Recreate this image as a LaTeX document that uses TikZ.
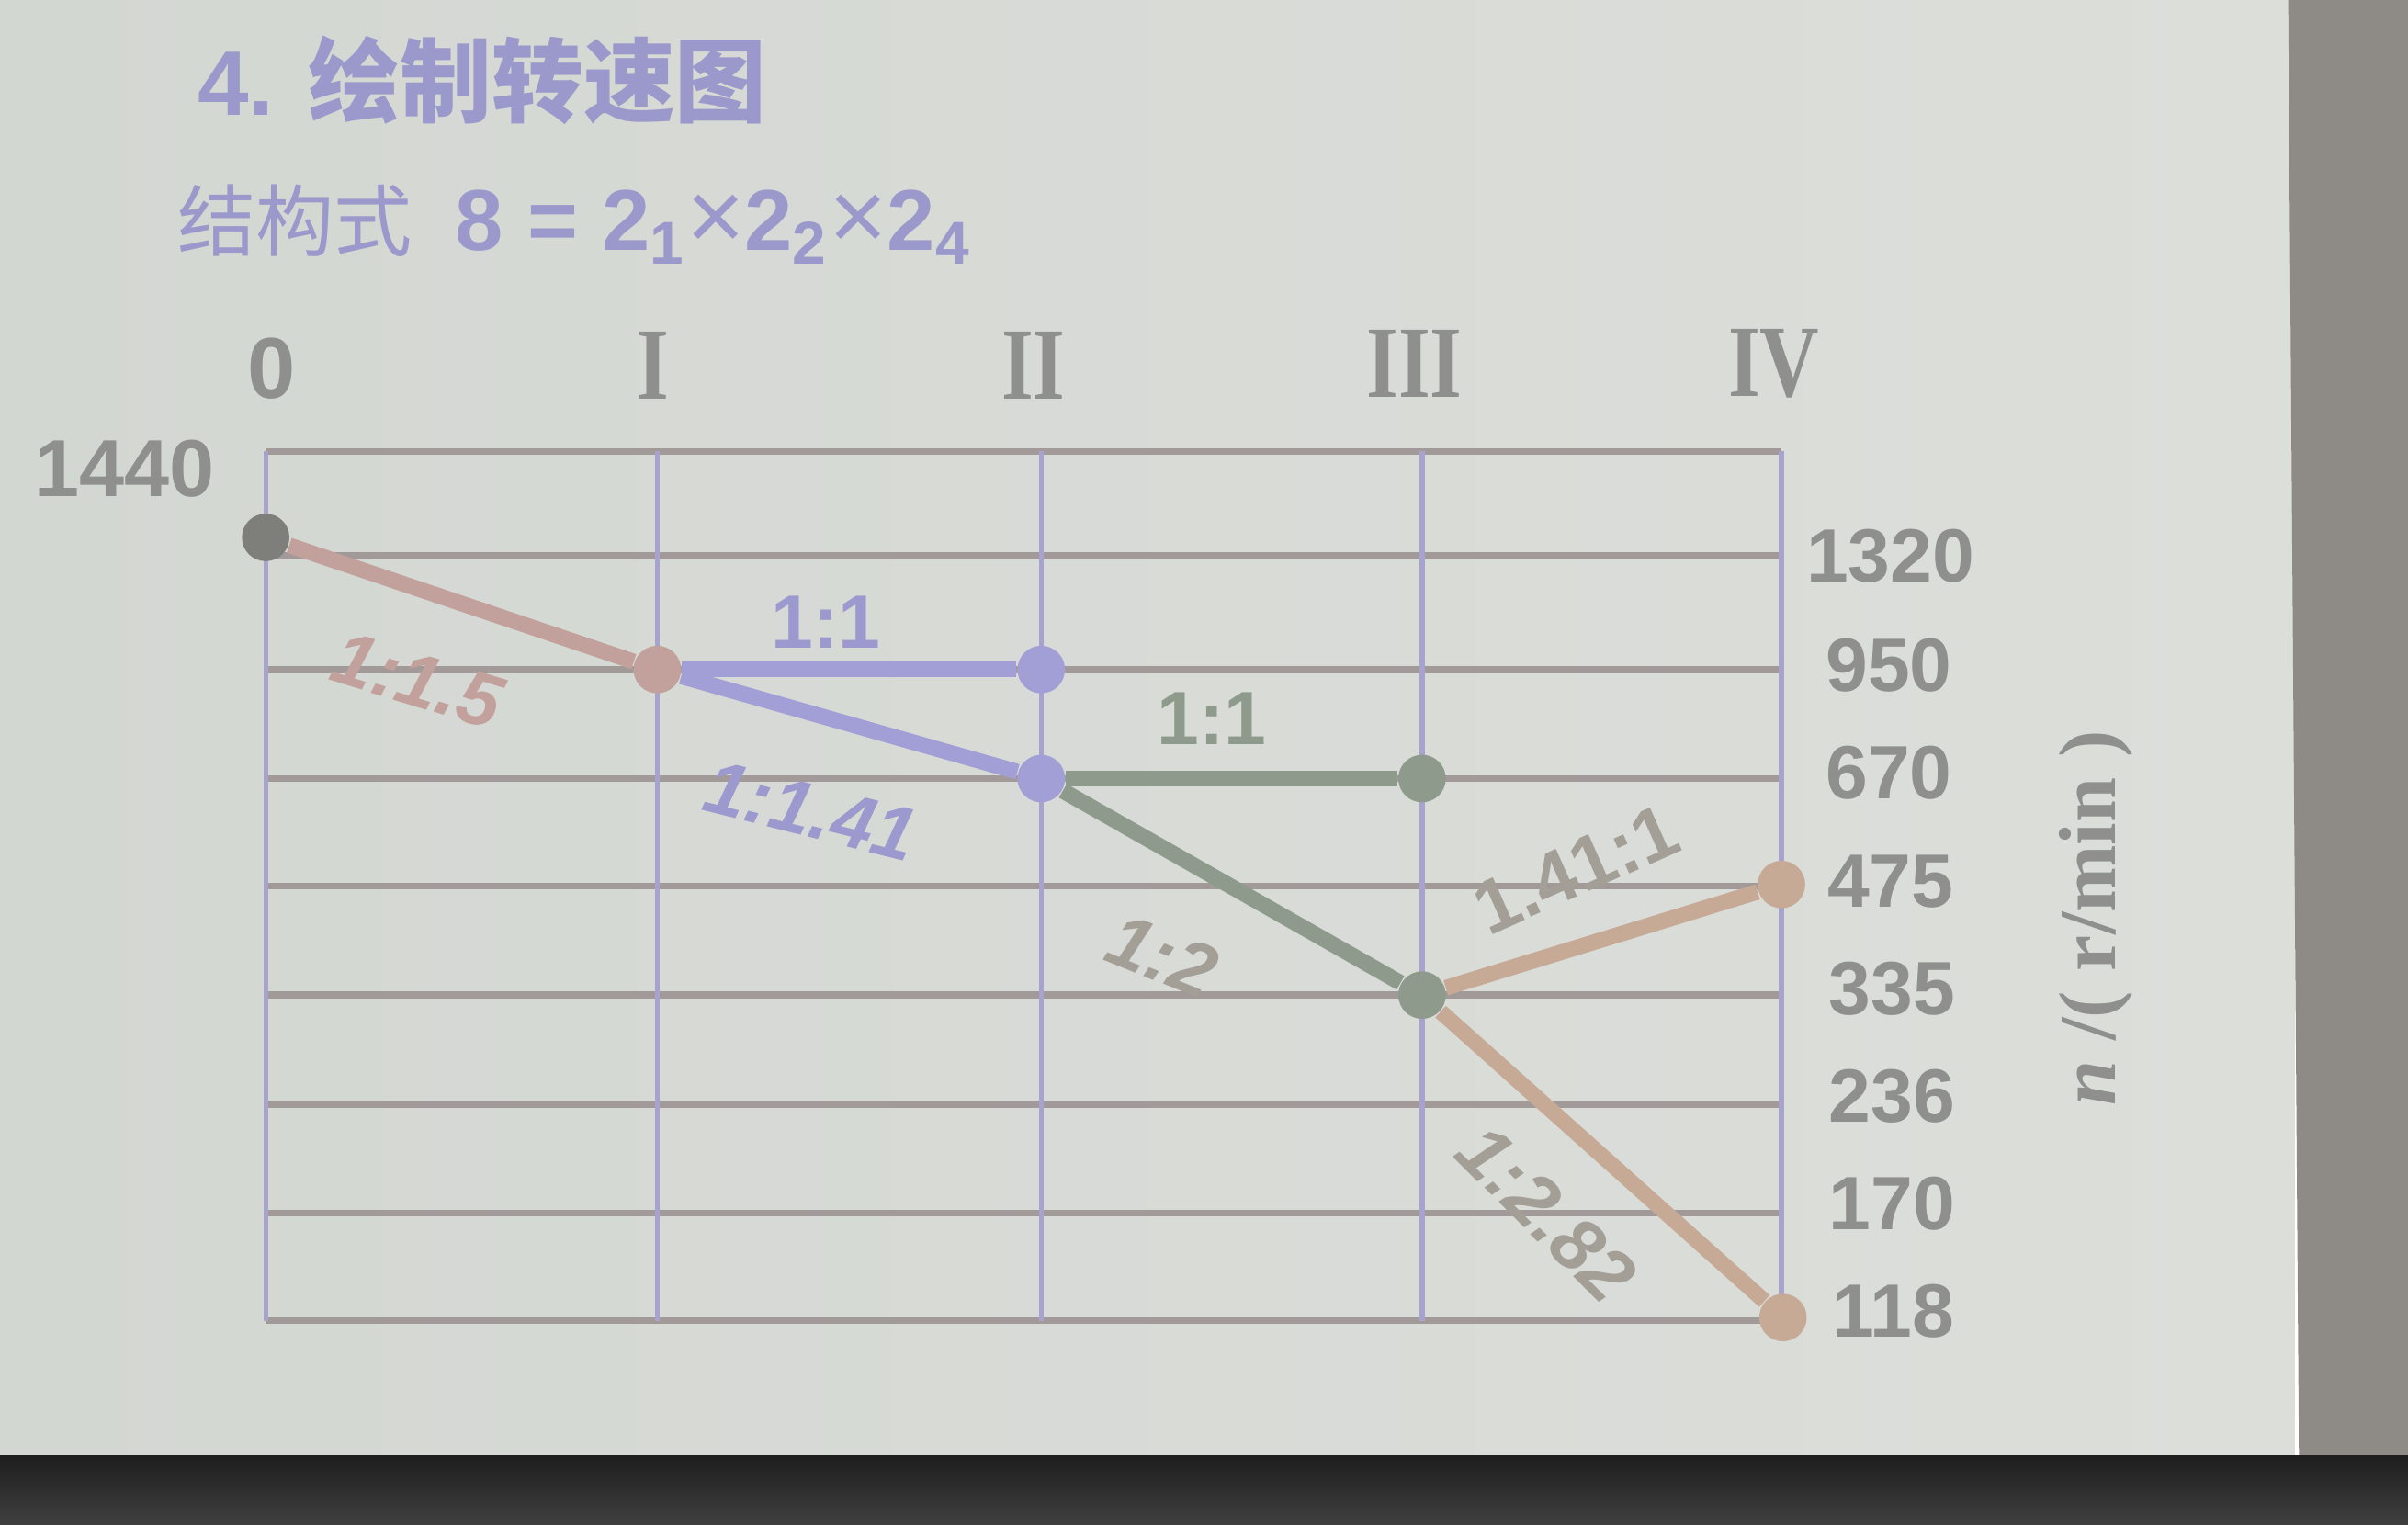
\documentclass[tikz,border=0pt]{standalone}
\usepackage{fontspec}
\setmainfont{Liberation Sans}
\newfontfamily\cjk{Noto Sans CJK SC}
\newfontfamily\timesf{Liberation Serif}
\usetikzlibrary{positioning}
\definecolor{SlideGrey}{HTML}{DCDEDA}
\definecolor{SlideEdge}{HTML}{D3D7D2}
\definecolor{WallGrey}{HTML}{8E8B87}
\definecolor{FrameBlack}{HTML}{1E1E1E}
\definecolor{TitleLav}{HTML}{9B99CB}
\definecolor{TextGrey}{HTML}{8F8F8D}
\definecolor{GridLav}{HTML}{A8A2CE}
\definecolor{GridBrown}{HTML}{A29A98}
\definecolor{SpdDark}{HTML}{7E7F7A}
\definecolor{SpdRose}{HTML}{C2A09C}
\definecolor{SpdBlue}{HTML}{A29FD6}
\definecolor{SpdGreen}{HTML}{8E9B8C}
\definecolor{SpdTan}{HTML}{C6AA96}
\definecolor{LabTan}{HTML}{A39F97}
\newcommand{\rnum}[1]{\scalebox{0.8}[1]{#1}}
\newcommand{\tms}{{\mdseries\fontsize{18.5}{16}\selectfont ×}}
\tikzset{
  hline/.style={draw=GridBrown,line width=1.3pt},
  vline/.style={draw=GridLav,line width=0.9pt},
  sp/.style={circle,inner sep=0pt,minimum size=8.8pt},
  spK/.style={sp,fill=SpdDark},
  spR/.style={sp,fill=SpdRose},
  spB/.style={sp,fill=SpdBlue},
  spG/.style={sp,fill=SpdGreen},
  spT/.style={sp,fill=SpdTan},
  ln/.style={line width=2.9pt},
  lnR/.style={ln,draw=SpdRose},
  lnB/.style={ln,draw=SpdBlue},
  lnG/.style={ln,draw=SpdGreen},
  lnT/.style={ln,draw=SpdTan},
  LX/.style={font=\fontsize{14}{14}\selectfont\bfseries,inner sep=1pt},
  LR/.style={LX,text=SpdRose},
  LB/.style={LX,text=SpdBlue!96!black},
  LG/.style={LX,text=SpdGreen},
  LN/.style={LX,text=LabTan},
  RL/.style={font=\fontsize{14}{14}\selectfont\bfseries,text=TextGrey},
  CL/.style={font=\timesf\fontsize{19}{19}\selectfont\bfseries,text=TextGrey}
}

\begin{document}
\begin{tikzpicture}[x=0.1mm,y=-0.1mm]
  \useasboundingbox (0,0) rectangle (1568,993);
  % slide, wall and screen frame
  \shade[left color=SlideEdge,right color=SlideGrey] (0,0) rectangle (1494,950);
  \fill[WallGrey] (1490,0) -- (1568,0) -- (1568,950) -- (1497,950) -- cycle;
  \shade[top color=FrameBlack,bottom color=FrameBlack!85!white] (0,948) rectangle (1568,993);

  % headings
  \node[anchor=west,text=TitleLav,inner sep=0pt] (title) at (128,52)
    {\fontsize{17}{17}\selectfont\bfseries 4. {\cjk 绘制转速图}};
  \node[anchor=west,text=TitleLav,inner sep=0pt] (formula) at (115,146)
    {{\cjk\fontsize{14.5}{14.5}\selectfont 结构式}\hspace{8pt}{\fontsize{16}{16}\selectfont\bfseries 8 = 2\textsubscript{1}\tms2\textsubscript{2}\tms2\textsubscript{4}}};

  % grid
  \foreach \y in {294,362,436,507,577,648,719,790,860}
    \draw[hline] (173,\y) -- (1160,\y);
  \foreach \x in {173,428,678,926,1160}
    \draw[vline] (\x,294) -- (\x,860);

  % shaft labels
  \node[font=\fontsize{16}{16}\selectfont\bfseries,text=TextGrey] (s0) at (177,240) {0};
  \node[CL] (s1) at (425,238) {\rnum{I}};
  \node[CL] (s2) at (673,238) {\rnum{II}};
  \node[CL] (s3) at (921,237) {\rnum{III}};
  \node[CL] (s4) at (1155,237) {\rnum{IV}};
  \node[font=\fontsize{15}{15}\selectfont\bfseries,text=TextGrey] (n1440) at (81,305) {1440};

  % speed labels
  \node[RL] (n1320) at (1231,362) {1320};
  \node[RL] (n950) at (1230,433) {950};
  \node[RL] (n670) at (1230,503) {670};
  \node[RL] (n475) at (1231,574) {475};
  \node[RL] (n335) at (1232,644) {335};
  \node[RL] (n236) at (1232,714) {236};
  \node[RL] (n170) at (1232,784) {170};
  \node[RL] (n118) at (1233,854) {118};
  \node[font=\timesf\fontsize{15}{15}\selectfont\bfseries,text=TextGrey,rotate=90] (unit) at (1365,598) {\textit{n} /( r/min )};

  % speed points
  \node[spK] (p0) at (173,350) {};
  \node[spR] (p1) at (428,436) {};
  \node[spB] (p2a) at (678,436) {};
  \node[spB] (p2b) at (678,507) {};
  \node[spG] (p3a) at (926,507) {};
  \node[spG] (p3b) at (926,648) {};
  \node[spT] (p4a) at (1160,576) {};
  \node[spT] (p4b) at (1161,858) {};

  \draw[lnR] (p0) -- (p1);
  \draw[lnB] (p1) -- (p2a);
  \draw[lnB] (p1) -- (p2b);
  \draw[lnG] (p2b) -- (p3a);
  \draw[lnG] (p2b) -- (p3b);
  \draw[lnT] (p3b) -- (p4a);
  \draw[lnT] (p3b) -- (p4b);

  % ratios
  \node[LR,rotate=-17] (r01) at (272,443) {\itshape 1:1.5};
  \node[LB] (r12a) at (538,405) {1:1};
  \node[LB,rotate=-14] (r12b) at (528,528) {\itshape 1:1.41};
  \node[LG] (r23a) at (789,468) {1:1};
  \node[LN,rotate=-22] (r23b) at (757,622) {\itshape 1:2};
  \node[LN,rotate=24] (r34a) at (1026,566) {1.41:1};
  \node[LN,rotate=-45] (r34b) at (1007,790) {\itshape 1:2.82};
\end{tikzpicture}
\end{document}
